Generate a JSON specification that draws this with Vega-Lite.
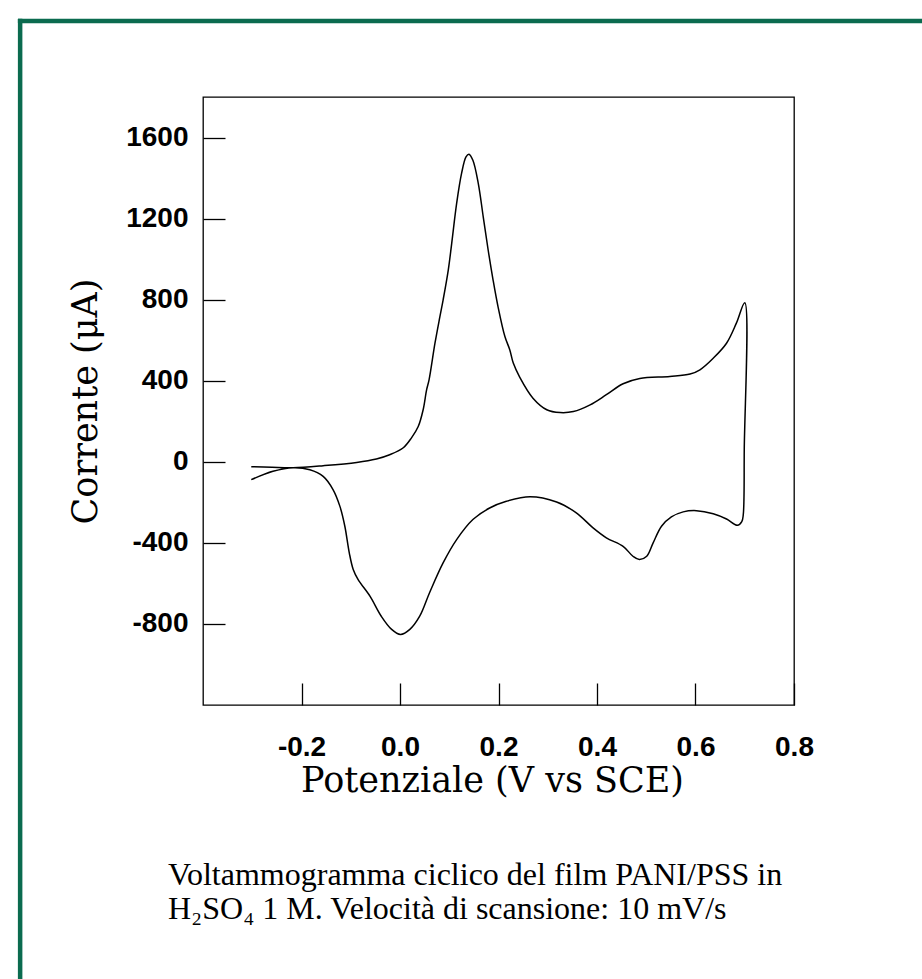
{
  "$schema": "https://vega.github.io/schema/vega-lite/v6.json",
  "autosize": "none",
  "width": 591,
  "height": 608,
  "padding": {"left": 203, "top": 97, "right": 128, "bottom": 274},
  "background": "white",
  "config": {
    "view": {"stroke": "black", "strokeWidth": 1.3},
    "axis": {"grid": false, "domain": false, "tickColor": "black", "tickWidth": 1.3, "labelColor": "black", "titleColor": "black"}
  },
  "datasets": {
    "cv": [
      {"order": 1, "v": -0.302, "i": -24},
      {"order": 2, "v": -0.260, "i": -27},
      {"order": 3, "v": -0.217, "i": -29},
      {"order": 4, "v": -0.156, "i": -19},
      {"order": 5, "v": -0.088, "i": -3},
      {"order": 6, "v": -0.048, "i": 14},
      {"order": 7, "v": -0.021, "i": 35},
      {"order": 8, "v": 0.006, "i": 68},
      {"order": 9, "v": 0.023, "i": 117},
      {"order": 10, "v": 0.037, "i": 174},
      {"order": 11, "v": 0.047, "i": 257},
      {"order": 12, "v": 0.054, "i": 355},
      {"order": 13, "v": 0.059, "i": 404},
      {"order": 14, "v": 0.071, "i": 585},
      {"order": 15, "v": 0.081, "i": 716},
      {"order": 16, "v": 0.0875, "i": 798},
      {"order": 17, "v": 0.098, "i": 946},
      {"order": 18, "v": 0.105, "i": 1078},
      {"order": 19, "v": 0.115, "i": 1275},
      {"order": 20, "v": 0.125, "i": 1423},
      {"order": 21, "v": 0.134, "i": 1504},
      {"order": 22, "v": 0.140, "i": 1518},
      {"order": 23, "v": 0.148, "i": 1488},
      {"order": 24, "v": 0.159, "i": 1373},
      {"order": 25, "v": 0.169, "i": 1209},
      {"order": 26, "v": 0.179, "i": 1045},
      {"order": 27, "v": 0.189, "i": 897},
      {"order": 28, "v": 0.199, "i": 766},
      {"order": 29, "v": 0.213, "i": 618},
      {"order": 30, "v": 0.223, "i": 552},
      {"order": 31, "v": 0.230, "i": 487},
      {"order": 32, "v": 0.243, "i": 418},
      {"order": 33, "v": 0.270, "i": 314},
      {"order": 34, "v": 0.298, "i": 257},
      {"order": 35, "v": 0.325, "i": 243},
      {"order": 36, "v": 0.352, "i": 248},
      {"order": 37, "v": 0.386, "i": 281},
      {"order": 38, "v": 0.419, "i": 331},
      {"order": 39, "v": 0.453, "i": 385},
      {"order": 40, "v": 0.487, "i": 411},
      {"order": 41, "v": 0.548, "i": 421},
      {"order": 42, "v": 0.589, "i": 433},
      {"order": 43, "v": 0.609, "i": 454},
      {"order": 44, "v": 0.636, "i": 511},
      {"order": 45, "v": 0.663, "i": 585},
      {"order": 46, "v": 0.683, "i": 684},
      {"order": 47, "v": 0.700, "i": 785},
      {"order": 48, "v": 0.699, "i": 60},
      {"order": 49, "v": 0.697, "i": -261},
      {"order": 50, "v": 0.694, "i": -295},
      {"order": 51, "v": 0.685, "i": -313},
      {"order": 52, "v": 0.663, "i": -282},
      {"order": 53, "v": 0.636, "i": -256},
      {"order": 54, "v": 0.602, "i": -241},
      {"order": 55, "v": 0.575, "i": -247},
      {"order": 56, "v": 0.551, "i": -272},
      {"order": 57, "v": 0.531, "i": -318},
      {"order": 58, "v": 0.514, "i": -400},
      {"order": 59, "v": 0.501, "i": -466},
      {"order": 60, "v": 0.486, "i": -482},
      {"order": 61, "v": 0.473, "i": -466},
      {"order": 62, "v": 0.453, "i": -417},
      {"order": 63, "v": 0.419, "i": -375},
      {"order": 64, "v": 0.392, "i": -326},
      {"order": 65, "v": 0.358, "i": -252},
      {"order": 66, "v": 0.318, "i": -198},
      {"order": 67, "v": 0.264, "i": -172},
      {"order": 68, "v": 0.216, "i": -195},
      {"order": 69, "v": 0.182, "i": -228},
      {"order": 70, "v": 0.148, "i": -285},
      {"order": 71, "v": 0.115, "i": -384},
      {"order": 72, "v": 0.0875, "i": -499},
      {"order": 73, "v": 0.060, "i": -646},
      {"order": 74, "v": 0.040, "i": -762},
      {"order": 75, "v": 0.020, "i": -827},
      {"order": 76, "v": 0.001, "i": -852},
      {"order": 77, "v": -0.017, "i": -827},
      {"order": 78, "v": -0.038, "i": -762},
      {"order": 79, "v": -0.061, "i": -663},
      {"order": 80, "v": -0.085, "i": -581},
      {"order": 81, "v": -0.095, "i": -531},
      {"order": 82, "v": -0.103, "i": -449},
      {"order": 83, "v": -0.112, "i": -318},
      {"order": 84, "v": -0.122, "i": -220},
      {"order": 85, "v": -0.136, "i": -137},
      {"order": 86, "v": -0.156, "i": -72},
      {"order": 87, "v": -0.183, "i": -39},
      {"order": 88, "v": -0.217, "i": -29},
      {"order": 89, "v": -0.258, "i": -47},
      {"order": 90, "v": -0.302, "i": -88}
    ]
  },
  "layer": [
    {
      "data": {"values": [{}]},
      "mark": {"type": "rule", "color": "#0b6b4f", "strokeWidth": 4.5, "strokeCap": "square"},
      "encoding": {
        "x": {"datum": -0.7713, "type": "quantitative", "scale": {"domain": [-0.4, 0.8], "nice": false, "zero": false}},
        "y": {"datum": 2175, "type": "quantitative", "scale": {"domain": [-1200, 1800], "nice": false, "zero": false}},
        "y2": {"datum": -2700}
      }
    },
    {
      "data": {"values": [{}]},
      "mark": {"type": "rule", "color": "#0b6b4f", "strokeWidth": 4.5, "strokeCap": "square"},
      "encoding": {
        "x": {"datum": -0.7713, "type": "quantitative"},
        "x2": {"datum": 1.3},
        "y": {"datum": 2175, "type": "quantitative"}
      }
    },
    {
      "data": {"values": [{}]},
      "mark": {"type": "text", "align": "left", "baseline": "alphabetic", "font": "Liberation Serif", "fontSize": 32, "lineHeight": 34, "color": "black"},
      "encoding": {
        "x": {"datum": -0.4711, "type": "quantitative"},
        "y": {"datum": -2088, "type": "quantitative"},
        "text": {"value": ["Voltammogramma ciclico del film PANI/PSS in", "H₂SO₄ 1 M. Velocità di scansione: 10 mV/s"]}
      }
    },
    {
      "data": {"name": "cv"},
      "mark": {"type": "line", "color": "black", "strokeWidth": 1.5, "interpolate": "catmull-rom"},
      "encoding": {
        "x": {
          "field": "v",
          "type": "quantitative",
          "scale": {"domain": [-0.4, 0.8], "nice": false, "zero": false},
          "axis": {
            "values": [-0.2, 0, 0.2, 0.4, 0.6, 0.8],
            "labelExpr": "(datum.value < 0 ? '-' : '') + format(abs(datum.value), '.1f')",
            "labelFont": "Liberation Sans",
            "labelFontWeight": "bold",
            "labelFontSize": 28,
            "labelFlush": false,
            "labelOverlap": false,
            "tickSize": -22,
            "labelPadding": 50,
            "title": "Potenziale (V vs SCE)",
            "titleFont": "DejaVu Serif",
            "titleFontWeight": "normal",
            "titleFontSize": 35,
            "titlePadding": 2,
            "titleX": 289
          }
        },
        "y": {
          "field": "i",
          "type": "quantitative",
          "scale": {"domain": [-1200, 1800], "nice": false, "zero": false},
          "axis": {
            "values": [-800, -400, 0, 400, 800, 1200, 1600],
            "labelExpr": "(datum.value < 0 ? '-' : '') + format(abs(datum.value), 'd')",
            "labelFont": "Liberation Sans",
            "labelFontWeight": "bold",
            "labelFontSize": 28,
            "labelOverlap": false,
            "tickSize": -22,
            "labelPadding": 37,
            "title": "Corrente (μA)",
            "titleFont": "DejaVu Serif",
            "titleFontWeight": "normal",
            "titleFontSize": 35,
            "titlePadding": 22
          }
        },
        "order": {"field": "order", "type": "quantitative"}
      }
    }
  ]
}
